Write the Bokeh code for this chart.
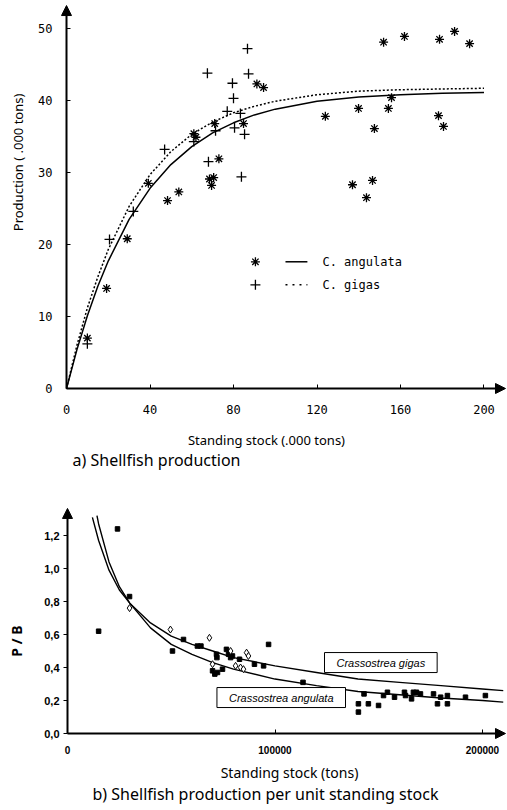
import math
from bokeh.plotting import figure
from bokeh.layouts import column
from bokeh.models import Range1d, Arrow, NormalHead, Label, FixedTicker
from bokeh.embed import file_html
from bokeh.resources import INLINE

# ---------------- data: a) Shellfish production ----------------
ang_x = [10, 19.2, 29.1, 39.2, 48.4, 53.8, 61, 62, 68.5, 70.5, 69.5, 73, 71, 84.8, 91.2, 94.4,
         124, 137, 139.9, 143.7, 146.6, 147.5, 151.9, 154.2, 155.7, 161.9, 178.2, 178.7, 180.6, 185.9, 193.1]
ang_y = [7.0, 13.9, 20.8, 28.5, 26.1, 27.3, 35.4, 34.9, 29.1, 29.3, 28.2, 31.9, 36.8, 36.8, 42.3, 41.8,
         37.8, 28.3, 38.9, 26.5, 28.9, 36.1, 48.1, 38.9, 40.4, 48.9, 37.9, 48.5, 36.4, 49.6, 47.9]
gig_x = [10, 20.6, 32, 47, 61, 67.5, 68, 71.4, 77, 79.5, 80, 80.5, 83.3, 83.8, 85.3, 86.7, 87.2]
gig_y = [6.2, 20.7, 24.6, 33.2, 34.3, 43.8, 31.5, 35.8, 38.5, 42.4, 40.3, 36.2, 38.2, 29.4, 35.3, 47.2, 43.7]

curve_x = [0, 5, 10, 15, 20, 30, 40, 50, 60, 70, 80, 90, 100, 120, 140, 160, 180, 200]
ang_curve = [0, 5.4, 10.1, 14.2, 17.7, 23.5, 27.8, 31.1, 33.6, 35.5, 36.9, 38.0, 38.8, 39.9, 40.5, 40.8, 41.0, 41.1]
gig_curve = [0, 6.0, 11.2, 15.5, 19.3, 25.3, 29.7, 32.9, 35.3, 37.0, 38.3, 39.2, 39.9, 40.8, 41.3, 41.5, 41.6, 41.7]

top_x_ticks = [0, 40, 80, 120, 160, 200]
top_y_ticks = [0, 10, 20, 30, 40, 50]

# ---------------- data: b) P/B ----------------
ang_b_x = [15000, 24100, 29900, 50600, 55900, 62600, 64300, 69900, 71000, 72300, 74700, 71800, 72000,
           76600, 77600, 79500, 78600, 82900, 90100, 94500, 96900, 113500,
           140200, 140200, 142900, 145000, 149900, 152300, 154200, 157600, 162400, 162900, 165800,
           166700, 168200, 170100, 176400, 178300, 179800, 183100, 183100, 191800, 201400]
ang_b_y = [0.62, 1.24, 0.83, 0.50, 0.57, 0.53, 0.53, 0.38, 0.36, 0.37, 0.39, 0.48, 0.46,
           0.51, 0.48, 0.47, 0.46, 0.45, 0.42, 0.41, 0.54, 0.31,
           0.18, 0.13, 0.24, 0.18, 0.17, 0.23, 0.25, 0.22, 0.25, 0.23, 0.21,
           0.25, 0.25, 0.24, 0.24, 0.18, 0.22, 0.23, 0.18, 0.22, 0.23]
gig_b_x = [29900, 49600, 68400, 69900, 78600, 81000, 83400, 84800, 86300, 87200]
gig_b_y = [0.76, 0.63, 0.58, 0.42, 0.50, 0.41, 0.40, 0.39, 0.49, 0.47]

gig_fit_x = [12000, 15000, 20000, 25000, 30000, 40000, 50000, 60000, 70000, 80000,
             100000, 120000, 140000, 160000, 180000, 200000, 210000]
gig_fit_y = [1.31, 1.17, 0.99, 0.87, 0.79, 0.67, 0.59, 0.54, 0.50, 0.46,
             0.41, 0.37, 0.33, 0.31, 0.29, 0.27, 0.26]
ang_fit_x = [14200, 15000, 20000, 25000, 30000, 40000, 50000, 60000, 70000, 80000,
             100000, 120000, 140000, 160000, 180000, 200000, 210000]
ang_fit_y = [1.32, 1.27, 1.04, 0.89, 0.79, 0.64, 0.54, 0.48, 0.43, 0.39,
             0.33, 0.29, 0.255, 0.235, 0.215, 0.20, 0.19]

bot_x_ticks = [0, 100000, 200000]
bot_y_ticks = [0.0, 0.2, 0.4, 0.6, 0.8, 1.0, 1.2]

MONO = "DejaVu Sans Mono"
SANS = "Noto Sans"
W = 506


def head():
    return NormalHead(size=10, fill_color="black", line_color="black")


# ================= top figure =================
p1 = figure(width=W, height=478, output_backend="svg", toolbar_location=None,
            x_range=Range1d(-31.62, 210.78), y_range=Range1d(-12.5, 53.89),
            min_border_left=0, min_border_right=0, min_border_top=0, min_border_bottom=0)
p1.grid.visible = False
p1.outline_line_color = None
for ax in (p1.xaxis[0], p1.yaxis[0]):
    ax.fixed_location = 0
    ax.axis_line_color = None
    ax.minor_tick_line_color = None
    ax.major_tick_in = 4
    ax.major_tick_out = 0
    ax.major_tick_line_color = "black"
    ax.major_label_text_font = MONO
    ax.major_label_text_font_size = "12px"
    ax.major_label_text_color = "black"
p1.xaxis.ticker = FixedTicker(ticks=top_x_ticks)
p1.yaxis.ticker = FixedTicker(ticks=top_y_ticks)
p1.xaxis.major_label_standoff = 16
p1.yaxis.major_label_standoff = 14

p1.add_layout(Arrow(end=head(), x_start=0, y_start=0, x_end=0, y_end=53.19,
                    line_width=2, line_color="black"))
p1.add_layout(Arrow(end=head(), x_start=0, y_start=0, x_end=210.3, y_end=0,
                    line_width=2, line_color="black"))

p1.line(curve_x, ang_curve, line_color="black", line_width=1.5)
p1.line(curve_x, gig_curve, line_color="black", line_width=1.5, line_dash="2 2")
p1.scatter(ang_x, ang_y, marker="asterisk", size=9, line_color="black", line_width=1.3)
p1.scatter(gig_x, gig_y, marker="cross", size=10, line_color="black", line_width=1.3)

# legend (drawn by hand to mimic the original)
LEG_MX, LEG_L0, LEG_L1, LEG_TX = 90.5, 104.9, 115.4, 122.6
LEG_Y = [17.6, 14.4]
p1.scatter([LEG_MX], [LEG_Y[0]], marker="asterisk", size=9, line_color="black", line_width=1.3)
p1.scatter([LEG_MX], [LEG_Y[1]], marker="cross", size=10, line_color="black", line_width=1.3)
p1.line([LEG_L0, LEG_L1], [LEG_Y[0], LEG_Y[0]], line_color="black", line_width=1.5)
p1.line([LEG_L0, LEG_L1], [LEG_Y[1], LEG_Y[1]], line_color="black", line_width=1.5, line_dash="2 5")
for t, yy in zip(["C.  angulata", "C.  gigas"], LEG_Y):
    p1.add_layout(Label(x=LEG_TX, y=yy, text=t, text_font=MONO, text_font_size="12px",
                        text_baseline="middle", text_align="left", text_color="black"))

p1.add_layout(Label(x=-23.2, y=31.4, text="Production ( .000 tons)", angle=math.pi / 2,
                    text_font=SANS, text_font_size="13px", text_align="center",
                    text_baseline="middle", text_color="black"))
p1.add_layout(Label(x=95.8, y=-7.2, text="Standing stock (.000 tons)", text_font=SANS,
                    text_font_size="13px", text_align="center", text_baseline="middle",
                    text_color="black"))
p1.add_layout(Label(x=2.9, y=-9.9, text="a) Shellfish production", text_font=SANS,
                    text_font_size="16px", text_align="left", text_baseline="middle",
                    text_color="black"))

# ================= bottom figure =================
p2 = figure(width=W, height=330, output_backend="svg", toolbar_location=None,
            x_range=Range1d(-32289, 211566), y_range=Range1d(-0.4545, 1.5455),
            min_border_left=0, min_border_right=0, min_border_top=0, min_border_bottom=0)
p2.grid.visible = False
p2.outline_line_color = None
for ax in (p2.xaxis[0], p2.yaxis[0]):
    ax.fixed_location = 0
    ax.axis_line_color = None
    ax.minor_tick_line_color = None
    ax.major_tick_line_color = "black"
    ax.major_label_text_font = "Liberation Sans"
    ax.major_label_text_font_style = "bold"
    ax.major_label_text_color = "black"
p2.xaxis.ticker = FixedTicker(ticks=bot_x_ticks)
p2.xaxis.major_label_overrides = {t: str(t) for t in bot_x_ticks}
p2.xaxis.major_label_text_font_size = "10px"
p2.xaxis.major_tick_in = 4
p2.xaxis.major_tick_out = 0
p2.xaxis.major_label_standoff = 12
p2.yaxis.ticker = FixedTicker(ticks=bot_y_ticks)
p2.yaxis.major_label_overrides = {t: f"{t:.1f}".replace(".", ",") for t in bot_y_ticks}
p2.yaxis.major_label_text_font_size = "11px"
p2.yaxis.major_tick_in = 0
p2.yaxis.major_tick_out = 4
p2.yaxis.major_label_standoff = 4

p2.add_layout(Arrow(end=head(), x_start=0, y_start=0, x_end=0, y_end=1.364,
                    line_width=2, line_color="black"))
p2.add_layout(Arrow(end=head(), x_start=0, y_start=0, x_end=211084, y_end=0,
                    line_width=2, line_color="black"))

p2.line(gig_fit_x, gig_fit_y, line_color="black", line_width=1.4)
p2.line(ang_fit_x, ang_fit_y, line_color="black", line_width=1.4)
p2.scatter(ang_b_x, ang_b_y, marker="square", size=4.5, fill_color="black", line_color="black")
p2.scatter(gig_b_x, gig_b_y, marker="diamond", size=7, fill_color="white", line_color="black",
           line_width=1)

box_pad = {"left": 12, "right": 12, "top": 4, "bottom": 4}
p2.add_layout(Label(x=151000, y=0.43, text="Crassostrea gigas", text_font="Liberation Sans",
                    text_font_style="italic", text_font_size="11px", text_align="center",
                    text_baseline="middle", border_line_color="black", border_line_width=1,
                    background_fill_color="white", padding=box_pad, text_color="black"))
p2.add_layout(Label(x=103000, y=0.218, text="Crassostrea angulata", text_font="Liberation Sans",
                    text_font_style="italic", text_font_size="11px", text_align="center",
                    text_baseline="middle", border_line_color="black", border_line_width=1,
                    background_fill_color="white", padding=box_pad, text_color="black"))

p2.add_layout(Label(x=-24600, y=0.56, text="P / B", angle=math.pi / 2, text_font=SANS,
                    text_font_size="14px", text_font_style="bold", text_align="center",
                    text_baseline="middle", text_color="black"))
p2.add_layout(Label(x=107000, y=-0.236, text="Standing stock (tons)", text_font=SANS,
                    text_font_size="14px", text_align="center", text_baseline="middle",
                    text_color="black"))
p2.add_layout(Label(x=12050, y=-0.364, text="b) Shellfish production per unit standing stock",
                    text_font=SANS, text_font_size="16px", text_align="left",
                    text_baseline="middle", text_color="black"))

layout = column(p1, p2, spacing=0)
open("out.html", "w").write(file_html(layout, INLINE))
